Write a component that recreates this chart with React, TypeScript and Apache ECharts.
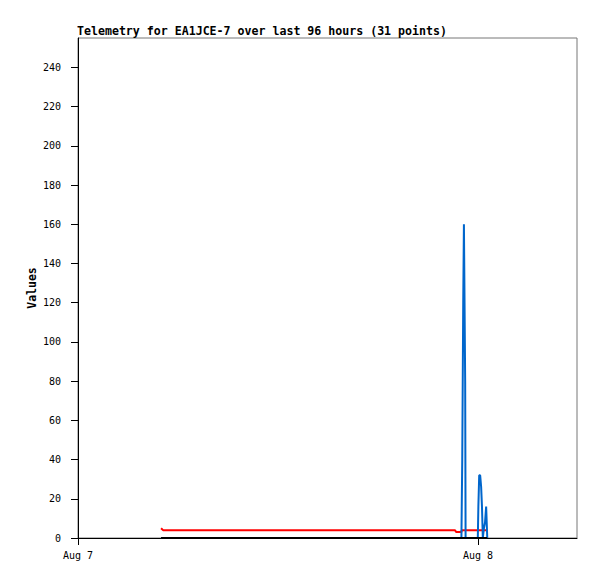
import React, { useEffect, useRef } from "react";
import * as echarts from "echarts";

const times: string[] = [
  "2024-08-07T04:59:00", "2024-08-07T05:06:00", "2024-08-07T07:00:00", "2024-08-07T09:00:00",
  "2024-08-07T11:00:00", "2024-08-07T13:00:00", "2024-08-07T17:00:00", "2024-08-07T21:00:00",
  "2024-08-07T22:37:00", "2024-08-07T22:41:00", "2024-08-07T23:00:00", "2024-08-07T23:01:00",
  "2024-08-07T23:03:00", "2024-08-07T23:06:30", "2024-08-07T23:09:00", "2024-08-07T23:11:00",
  "2024-08-07T23:13:30", "2024-08-07T23:15:00", "2024-08-07T23:40:00", "2024-08-07T23:59:00",
  "2024-08-08T00:01:00", "2024-08-08T00:04:00", "2024-08-08T00:07:30", "2024-08-08T00:11:00",
  "2024-08-08T00:14:00", "2024-08-08T00:17:00", "2024-08-08T00:21:00", "2024-08-08T00:25:00",
  "2024-08-08T00:29:00", "2024-08-08T00:33:00", "2024-08-08T00:35:00",
];
const redValues: number[] = [
  5, 4, 4, 4, 4, 4, 4, 4, 4, 3, 3, 4, 4, 4, 4, 4, 4, 4, 4, 4,
  4, 4, 4, 4, 4, 4, 4, 4, 4, 4, 4,
];
const blueValues: number[] = [
  0, 0, 0, 0, 0, 0, 0, 0, 0, 0, 0, 0, 40, 120, 160, 160, 80, 0, 0, 0,
  16, 32, 32, 26, 16, 0, 5, 8, 16, 0, 0,
];
const blackValues: number[] = [
  0, 0, 0, 0, 0, 0, 0, 0, 0, 0, 0, 0, 0, 0, 0, 0, 0, 0, 0, 0,
  0, 0, 0, 0, 0, 0, 0, 0, 0, 0, 0,
];
const yTicks: number[] = [0, 20, 40, 60, 80, 100, 120, 140, 160, 180, 200, 220, 240];
const xTickDays: string[] = ["2024-08-07T00:00:00", "2024-08-08T00:00:00"];
const xTickLabels: string[] = ["Aug 7", "Aug 8"];
const xMaxTime = "2024-08-08T05:56:00";
const yMax = 255;
const yAxisTitle = "Values";

const ms = (s: string) => Date.parse(s + "Z");

export default function App() {
  const ref = useRef<HTMLDivElement>(null);
  useEffect(() => {
    if (!ref.current) return;
    const chart = echarts.init(ref.current, undefined, { renderer: "svg" });
    const xs = times.map(ms);
    const mk = (vals: number[]) => vals.map((v, i) => [xs[i], v]);
    const dayMs = xTickDays.map(ms);
    const mono = "'DejaVu Sans Mono', monospace";
    chart.setOption({
      animation: false,
      title: {
        text: "Telemetry for EA1JCE-7 over last 96 hours (31 points)",
        left: 77,
        top: 25,
        padding: 0,
        textStyle: { fontFamily: mono, fontSize: 11.6, fontWeight: "bold", color: "#000" },
      },
      graphic: [
        {
          type: "text",
          x: 32,
          y: 288,
          rotation: Math.PI / 2,
          style: {
            text: yAxisTitle,
            fontFamily: mono,
            fontSize: 11.5,
            fontWeight: "bold",
            fill: "#000",
            align: "center",
            verticalAlign: "middle",
          },
        },
      ],
      grid: {
        left: 78, top: 38, right: 20, bottom: 41,
        show: true, borderColor: "#777", borderWidth: 1, backgroundColor: "transparent",
      },
      xAxis: {
        type: "value",
        min: dayMs[0],
        max: ms(xMaxTime),
        interval: 86400000,
        axisLine: { show: true, onZero: false, lineStyle: { color: "#000", width: 1 } },
        axisTick: { show: true, length: 7, inside: false, customValues: dayMs, lineStyle: { color: "#000" } },
        axisLabel: {
          customValues: dayMs,
          margin: 12,
          fontFamily: mono,
          fontSize: 10,
          color: "#000",
          formatter: (v: number) => {
            const i = dayMs.indexOf(v);
            return i >= 0 ? xTickLabels[i] : "";
          },
        },
        splitLine: { show: false },
      },
      yAxis: {
        type: "value",
        min: 0,
        max: yMax,
        interval: 20,
        axisLine: { show: true, lineStyle: { color: "#000", width: 1 } },
        axisTick: { show: true, length: 7, customValues: yTicks, lineStyle: { color: "#000" } },
        axisLabel: { customValues: yTicks, margin: 17, fontFamily: mono, fontSize: 10, color: "#000" },
        splitLine: { show: false },
      },
      series: [
        { type: "line", data: mk(redValues), showSymbol: false, z: 2, lineStyle: { color: "#ff0000", width: 2 } },
        { type: "line", data: mk(blueValues), showSymbol: false, z: 3, lineStyle: { color: "#0066cc", width: 2 } },
        { type: "line", data: mk(blackValues), showSymbol: false, z: 4, lineStyle: { color: "#000000", width: 2 } },
      ],
    });
    return () => chart.dispose();
  }, []);
  return <div ref={ref} style={{ width: 597, height: 579, position: "absolute", left: 0, top: 0 }} />;
}
